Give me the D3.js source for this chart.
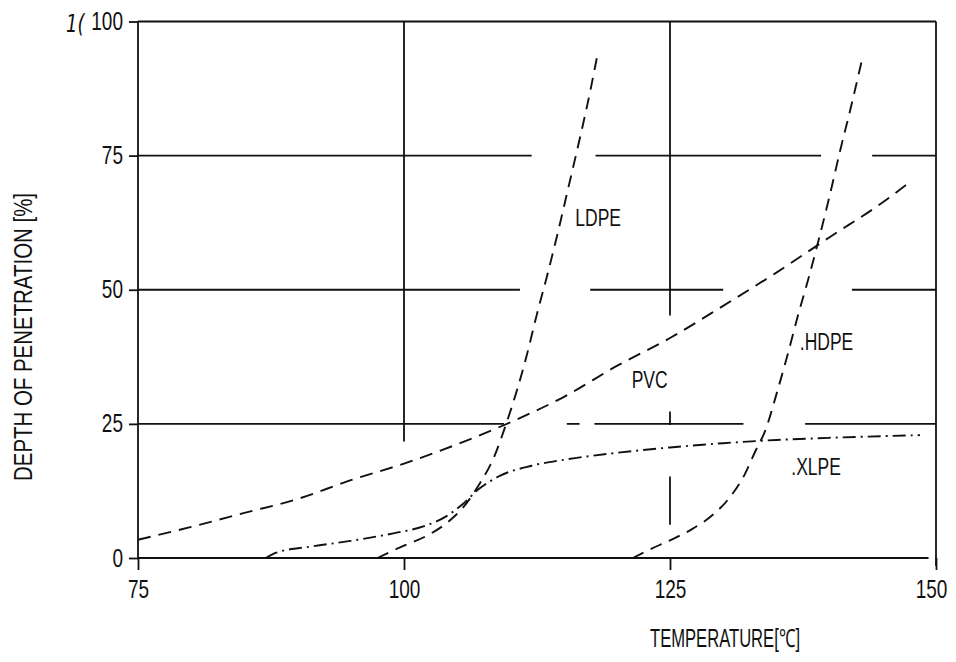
<!DOCTYPE html>
<html>
<head>
<meta charset="utf-8">
<script src="https://cdn.jsdelivr.net/npm/d3@7"></script>
<style>
  body { margin: 0; background: #fff; }
  svg { display: block; }
</style>
</head>
<body>
<div id="chart"></div>
<script>
// datos (temperatura en C, profundidad en %)
var xTicks = [75, 100, 125, 150];
var yTicks = [0, 25, 50, 75, 100];

var pvc = [[75, 3.4], [80, 5.8], [85, 8.4], [90, 11], [95, 14.5], [100, 17.6], [105, 21.2], [110, 25.3],
    [115, 30], [120, 35.8], [125, 41], [130, 47], [135, 53.2], [140, 59.8], [145, 66.3], [147.5, 70]];
var ldpe = [[97.5, 0], [100, 2.3], [102, 4], [104, 6.5], [105.5, 9.3], [107, 13.5], [108.5, 19], [109.6, 25],
    [110.5, 30.5], [111.5, 37.5], [112.5, 45.5], [113.5, 53], [114.5, 61], [115.5, 69.5], [116.5, 78],
    [117.5, 87], [118.2, 94]];
var hdpe = [[121.5, 0], [123, 1.5], [125, 3.3], [127, 5.3], [129, 8], [130.5, 11], [132, 15.5], [133, 19.8],
    [134, 24], [135, 30.5], [136, 37.5], [137, 45], [138, 52], [139, 59.5], [140, 67.5], [141, 76],
    [142, 84], [143, 92.5]];
var xlpe = [[87, 0], [88, 1], [91.5, 2.2], [95, 3.2], [99, 4.6], [102, 6], [104, 7.8], [105.5, 10], [107, 12.8],
    [109, 15.3], [112, 17.2], [115, 18.3], [120, 19.6], [125, 20.6], [130, 21.4], [135, 22], [140, 22.4],
    [148.5, 22.9]];

// tramos de la rejilla (la figura original tiene huecos)
var hGrid = [
    { v: 100, segs: [[75, 150]] },
    { v: 75, segs: [[75, 112], [118, 139.2], [144, 150]] },
    { v: 50, segs: [[75, 110.9], [117.5, 130], [142.1, 150]] },
    { v: 25, segs: [[75, 109.4], [115.3, 116.5], [117.9, 131.9], [137.7, 150]] },
    { v: 0, segs: [[75, 149.3]] }
];
var vGrid = [
    { v: 75, segs: [[100, 0]] },
    { v: 100, segs: [[100, 21.7]] },
    { v: 125, segs: [[100, 45.2], [27.3, 24.8], [15.2, 6.2]] },
    { v: 150, segs: [[100, -1.5]] }
];

var labels = [
    { name: 'LDPE', x: 116.1, y: 61.8 },
    { name: 'PVC', x: 121.4, y: 31.7 },
    { name: '.HDPE', x: 137.2, y: 38.8 },
    { name: '.XLPE', x: 136.4, y: 15.5 }
];

var width = 956, height = 662;
var fuente = '"Liberation Sans", Arial, sans-serif';
var tinta = '#111';

var svg = d3.select('#chart').append('svg')
    .attr('width', width)
    .attr('height', height);

var x = d3.scaleLinear().domain([75, 150]).range([138, 936]);
var y = d3.scaleLinear().domain([0, 100]).range([558, 21.5]);

// estrecha el texto (la figura usa una letra condensada)
function estrechar(sel, k) {
    sel.each(function () {
        var L = this.getComputedTextLength();
        d3.select(this).attr('textLength', L * k).attr('lengthAdjust', 'spacingAndGlyphs');
    });
}

// REJILLA
var grid = svg.append('g').attr('stroke', tinta).attr('stroke-width', 1.8).attr('fill', 'none');
hGrid.forEach(function (g) {
    g.segs.forEach(function (s) {
        grid.append('line')
            .attr('x1', x(s[0])).attr('x2', x(s[1]))
            .attr('y1', y(g.v)).attr('y2', y(g.v));
    });
});
vGrid.forEach(function (g) {
    g.segs.forEach(function (s) {
        grid.append('line')
            .attr('x1', x(g.v)).attr('x2', x(g.v))
            .attr('y1', y(s[0])).attr('y2', y(s[1]));
    });
});

// EJES
var ejeY = svg.append('g')
    .attr('transform', 'translate(' + x(75) + ',0)')
    .call(d3.axisLeft(y).tickValues(yTicks).tickSize(9).tickPadding(6));
var ejeX = svg.append('g')
    .attr('transform', 'translate(0,' + y(0) + ')')
    .call(d3.axisBottom(x).tickValues(xTicks).tickSize(12).tickPadding(10));

[ejeY, ejeX].forEach(function (eje) {
    eje.select('.domain').remove();
    eje.selectAll('line').attr('stroke', tinta).attr('stroke-width', 1.8);
    eje.selectAll('text')
        .attr('fill', tinta)
        .attr('font-family', fuente)
        .attr('font-size', '25px')
        .call(estrechar, 0.76);
});
// el 150 queda pegado al borde: se corre un poco
ejeX.selectAll('.tick text').filter(function (d) { return d === 150; }).attr('dx', -5);

// marca manuscrita junto al 100
svg.append('text')
    .attr('x', 66)
    .attr('y', y(100) + 10)
    .attr('font-family', '"DejaVu Sans", sans-serif')
    .attr('font-style', 'italic')
    .attr('font-size', '24px')
    .attr('fill', tinta)
    .text('1(')
    .call(estrechar, 0.75);

// CURVAS
var line = d3.line()
    .x(function (d) { return x(d[0]); })
    .y(function (d) { return y(d[1]); })
    .curve(d3.curveMonotoneX);

var series = [
    { data: pvc, dash: '13,8' },
    { data: ldpe, dash: '12,8' },
    { data: hdpe, dash: '12,8' },
    { data: xlpe, dash: '13,5,2,5' }
];
svg.append('g').selectAll('path')
    .data(series)
    .join('path')
    .attr('d', function (d) { return line(d.data); })
    .attr('fill', 'none')
    .attr('stroke', tinta)
    .attr('stroke-width', 1.9)
    .attr('stroke-dasharray', function (d) { return d.dash; });

// ETIQUETAS DE LAS CURVAS
svg.append('g').selectAll('text')
    .data(labels)
    .join('text')
    .attr('x', function (d) { return x(d.x); })
    .attr('y', function (d) { return y(d.y); })
    .attr('font-family', fuente)
    .attr('font-size', '23px')
    .attr('fill', tinta)
    .text(function (d) { return d.name; })
    .call(estrechar, 0.76);

// TITULOS DE LOS EJES
svg.append('text')
    .attr('x', 650)
    .attr('y', 647)
    .attr('font-family', fuente)
    .attr('font-size', '25px')
    .attr('textLength', 150)
    .attr('lengthAdjust', 'spacingAndGlyphs')
    .attr('fill', tinta)
    .text('TEMPERATURE[\u2103]');

svg.append('text')
    .attr('transform', 'translate(32,' + 337 + ') rotate(-90)')
    .attr('text-anchor', 'middle')
    .attr('font-family', fuente)
    .attr('font-size', '26px')
    .attr('textLength', 288)
    .attr('lengthAdjust', 'spacingAndGlyphs')
    .attr('fill', tinta)
    .text('DEPTH OF PENETRATION [%]');
</script>
</body>
</html>
